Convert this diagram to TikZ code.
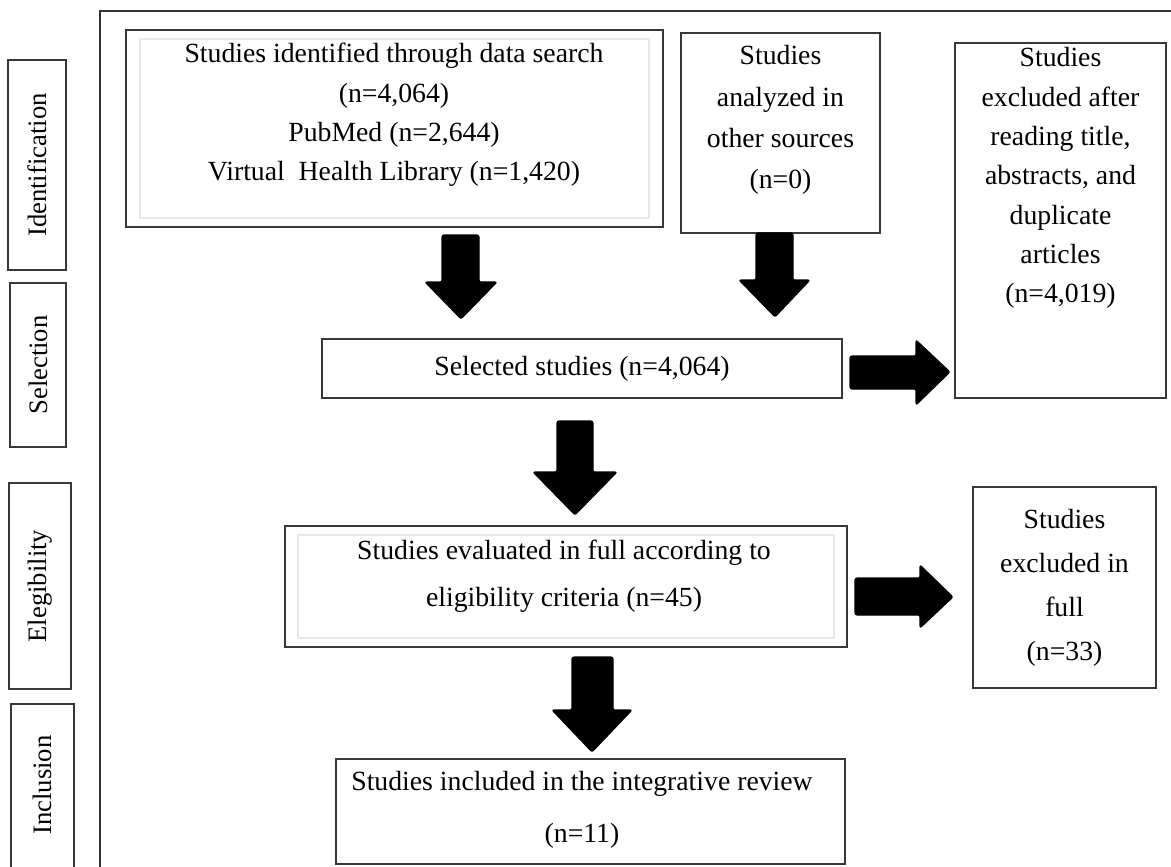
\documentclass[tikz,border=0pt]{standalone}
\usepackage{fontspec}
\setmainfont{Liberation Serif}
\usetikzlibrary{fit}
\begin{document}
\begin{tikzpicture}[x=0.75pt,y=-0.75pt,
  box/.style={draw=black!78,line width=1.1pt,inner sep=0pt},
  innerbox/.style={draw=black!9,line width=0.9pt,inner sep=0pt},
  lbl/.style={font=\fontsize{20}{24}\selectfont,rotate=90,inner sep=0pt},
  txt/.style={align=center,inner sep=0pt},
  blk/.style={fill=black,draw=black,line width=0.8pt,rounded corners=1.5pt},
]
\useasboundingbox (0,0) rectangle (1171,867);
\clip (0,0) rectangle (1171,867);
\fill[white] (0,0) rectangle (1171,867);

% outer frame (only top and left visible)
\coordinate (fTR) at (1180,11);
\coordinate (fTL) at (100,11);
\coordinate (fBL) at (100,875);
\draw[black!80,line width=1pt] (fTR) -- (fTL) -- (fBL);

% phase labels
\node[box,fit={(8,60)(66,270)}] (idb) {};
\node[lbl] (idt) at (idb.center) {Identification};
\node[box,fit={(10,283)(66,447)}] (selb) {};
\node[lbl] (selt) at (selb.center) {Selection};
\node[box,fit={(9,483)(71,689)}] (elb) {};
\node[lbl] (elt) at (elb.center) {Elegibility};
\node[box,fit={(11,704)(74,900)}] (inb) {};
\node[lbl] (int) at (42.5,785) {Inclusion};

% box 1
\node[box,fit={(126,30)(663,227)}] (b1) {};
\node[innerbox,fit={(140,39)(649,218)}] (b1i) {};
\node[txt,font=\fontsize{20.8}{29.5}\selectfont] (t1) at (394,115)
  {Studies identified through data search\\(n=4,064)\\PubMed (n=2,644)\\Virtual\ \ Health Library (n=1,420)};

% box 2
\node[box,fit={(681,33)(880,233)}] (b2) {};
\node[txt,font=\fontsize{20.8}{31}\selectfont] (t2) at (780.5,120)
  {Studies\\analyzed in\\other sources\\(n=0)};

% box 3
\node[box,fit={(955,43)(1166,398)}] (b3) {};
\node[txt,font=\fontsize{20.8}{29.5}\selectfont] (t3) at (1060.5,178)
  {Studies\\excluded after\\reading title,\\abstracts, and\\duplicate\\articles\\(n=4,019)};

% selected
\node[box,fit={(322,339)(842,398)}] (b4) {};
\node[txt,font=\fontsize{20.8}{24}\selectfont] (t4) at (582,369) {Selected studies (n=4,064)};

% evaluated
\node[box,fit={(285,526)(847,647)}] (b5) {};
\node[innerbox,fit={(298,535)(834,638)}] (b5i) {};
\node[txt,font=\fontsize{20.8}{35}\selectfont] (t5) at (564,576)
  {Studies evaluated in full according to\\eligibility criteria (n=45)};

% excluded in full
\node[box,fit={(973,487)(1156,688)}] (b6) {};
\node[txt,font=\fontsize{20.8}{33}\selectfont] (t6) at (1064.5,588)
  {Studies\\excluded in\\full\\(n=33)};

% included
\node[box,fit={(336,759)(845,864)}] (b7) {};
\node[txt,font=\fontsize{20.8}{39}\selectfont] (t7) at (582,810)
  {Studies included in the integrative review\\(n=11)};

% block arrows
\filldraw[blk] (442,235) -- (479,235) -- (479,282) -- (497,282) -- (461,319) -- (425,282) -- (442,282) -- cycle;
\filldraw[blk] (756,233) -- (793,233) -- (793,280) -- (810,280) -- (775,317) -- (739,280) -- (756,280) -- cycle;
\filldraw[blk] (850,356) -- (916,356) -- (916,340) -- (950,372) -- (916,405) -- (916,389) -- (850,389) -- cycle;
\filldraw[blk] (557,421) -- (593,421) -- (593,472) -- (617,472) -- (575,515) -- (533,472) -- (557,472) -- cycle;
\filldraw[blk] (572,657) -- (613,657) -- (613,710) -- (632,710) -- (592,752) -- (552,710) -- (572,710) -- cycle;
\filldraw[blk] (855,578) -- (920,578) -- (920,565) -- (953,597) -- (920,628) -- (920,615) -- (855,615) -- cycle;
\end{tikzpicture}
\end{document}
